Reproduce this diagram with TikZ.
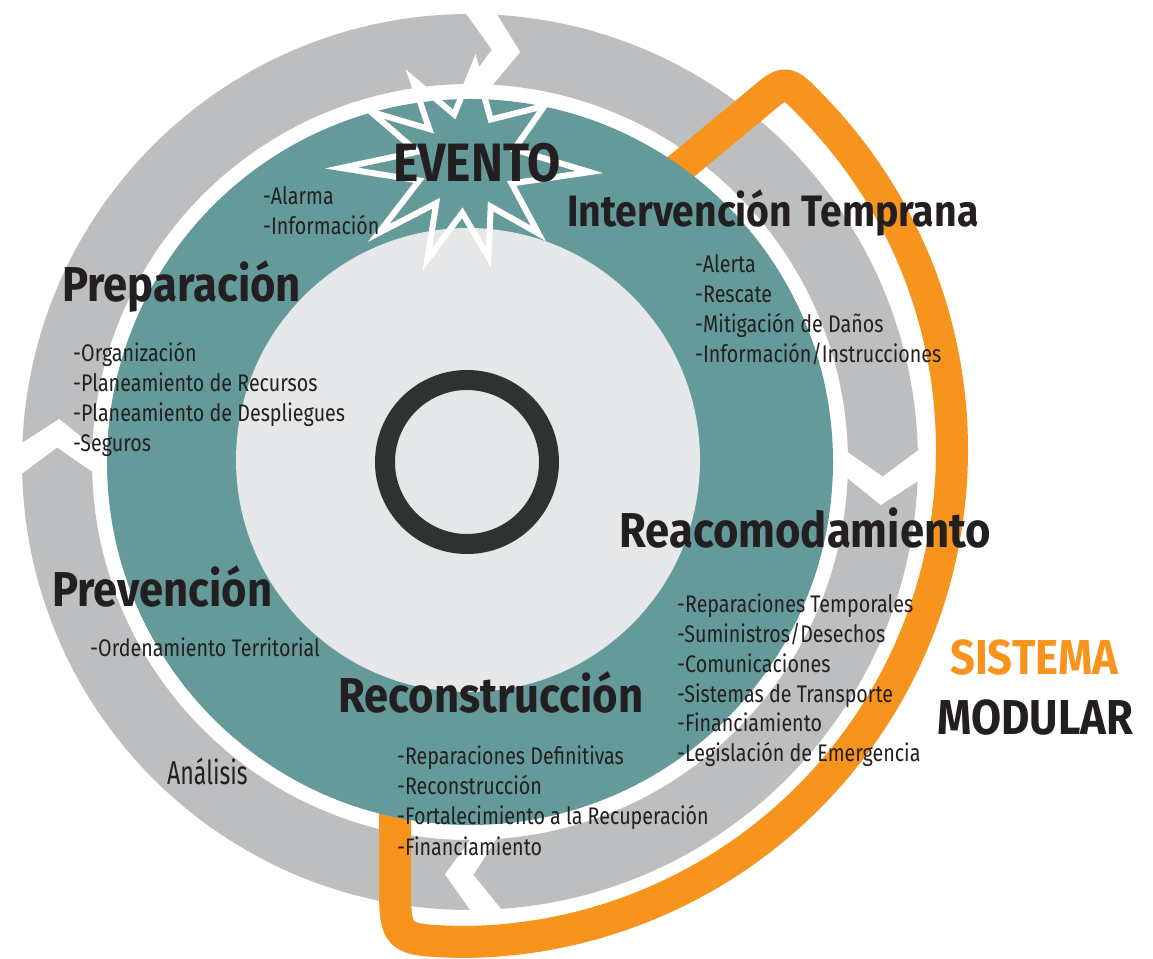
\documentclass[tikz,border=0pt]{standalone}
\usepackage{fontspec}
\setmainfont{Fira Sans}[FakeStretch=0.82]
\newfontfamily\headfont{Fira Sans}[FakeStretch=0.89]
\newfontfamily\analfont{Fira Sans}[FakeStretch=0.7]
\usetikzlibrary{calc}
\definecolor{tealbg}{HTML}{659A9A}
\definecolor{ringgrey}{HTML}{BCBEC0}
\definecolor{coregrey}{HTML}{E6E7E8}
\definecolor{darkring}{HTML}{303231}
\definecolor{modorange}{HTML}{F7941D}
\definecolor{ink}{HTML}{231F20}
\newcommand\ringpart[2]{\fill[ringgrey] (#1:448pt) arc[start angle=#1,end angle=#2,radius=448pt] -- ({#2-3.5}:413pt) -- (#2:378pt) arc[start angle=#2,end angle=#1,radius=378pt] -- ({#1-3.5}:413pt) -- cycle;}
\tikzset{
  phase/.style={font=\headfont\fontsize{49}{49}\selectfont\bfseries,text=ink,inner sep=0pt,anchor=base west},
  item/.style={font=\fontsize{24}{30}\selectfont,text=ink,inner sep=0pt,anchor=base west},
  modline/.style={draw=modorange,line width=32pt},
  starline/.style={draw=white,line width=6pt}
}

\begin{document}
\begin{tikzpicture}[x=1pt,y=1pt]
    \fill[white] (0,0) rectangle (1153,957);
    \begin{scope}[shift={(470,495)}]
        \ringpart{86.5}{1.5}
        \ringpart{-2.5}{-86}
        \ringpart{270}{181.5}
        \ringpart{177.5}{90.5}
    \end{scope}
    \coordinate (o2) at (460,507);
    \draw[modline] (653,767) -- (759,855) .. controls (786,878) .. ($(o2)+(44:492pt)$)
        arc[start angle=44,end angle=-90,radius=492pt] .. controls (395,17) .. (395,77) -- (395,167);
    \begin{scope}[shift={(470,495)}]
        \fill[tealbg] (0,0) circle[radius=363pt];
        \fill[coregrey] (-2,2) circle[radius=232pt];
        \draw[darkring,line width=20pt] (-3,0) circle[radius=82pt];
    \end{scope}
    \begin{scope}[shift={(466,794)}]
        \draw[starline] (84.8:100pt) \foreach \a/\r in {103.7/50,122.6/100,137.2/50,151.7/108,167/50,182.3/125,200.5/50,218.7/112,233.5/50,248.2/104,265.8/50,283.4/97,299.6/50,315.8/101,335.8/50,355.8/124,15.9/50,36/97,60.4/50} { -- (\a:\r pt) } -- cycle;
    \end{scope}

    \node[phase,font=\headfont\fontsize{54}{54}\selectfont\bfseries] (evento) at (393,775) {EVENTO};
    \node[phase,font=\headfont\fontsize{44}{44}\selectfont\bfseries] (interv) at (567,730) {Intervención Temprana};
    \node[phase] (prep) at (62,655) {Preparación};
    \node[phase] (prev) at (52,350) {Prevención};
    \node[phase] (reac) at (619,409) {Reacomodamiento};
    \node[phase] (recon) at (338,244) {Reconstrucción};
    \node[phase,text=modorange] (sist) at (950,282) {SISTEMA};
    \node[phase] (modu) at (937,222) {MODULAR};
    \node[item,font=\analfont\fontsize{33}{33}\selectfont] (anal) at (167,172) {Análisis};

    \foreach \t [count=\i] in {-Alarma,-Información}
        \node[item] (ev\i) at (263,782-30*\i) {\t};
    \foreach \t [count=\i] in {-Alerta,-Rescate,-Mitigación de Daños,-Información/Instrucciones}
        \node[item] (in\i) at (695,714-30*\i) {\t};
    \foreach \t [count=\i] in {-Organización,-Planeamiento de Recursos,-Planeamiento de Despliegues,-Seguros}
        \node[item] (pr\i) at (73,625-30*\i) {\t};
    \node[item] (pv1) at (90,300) {-Ordenamiento Territorial};
    \foreach \t [count=\i] in {-Reparaciones Temporales,-Suministros/Desechos,-Comunicaciones,-Sistemas de Transporte,-Financiamiento,-Legislación de Emergencia}
        \node[item] (re\i) at (677,374-29.8*\i) {\t};
    \foreach \t [count=\i] in {-Reparaciones Definitivas,-Reconstrucción,-Fortalecimiento a la Recuperación,-Financiamiento}
        \node[item] (rc\i) at (397,222-30*\i) {\t};
\end{tikzpicture}
\end{document}
